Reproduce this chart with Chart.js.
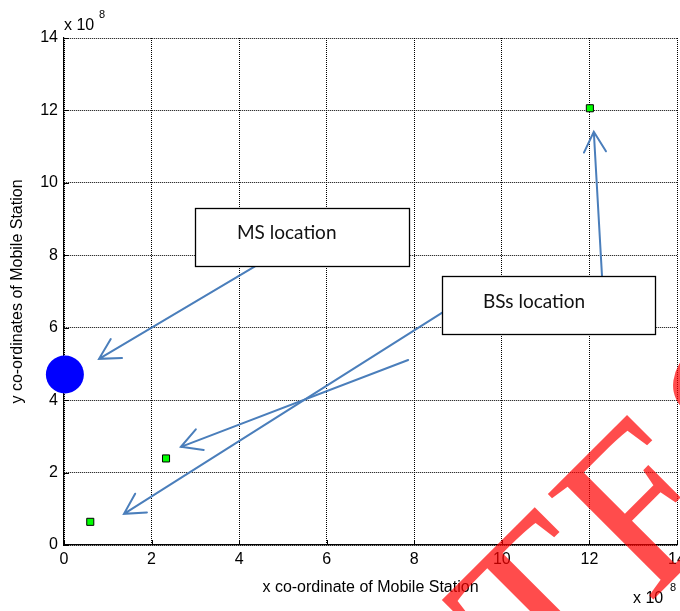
<!DOCTYPE html>
<html>
<head>
<meta charset="utf-8">
<script src="https://cdn.jsdelivr.net/npm/chart.js@4"></script>
<style>
  html, body { margin: 0; padding: 0; background: #fff; }
</style>
</head>
<body>
<canvas id="plot" width="680" height="611"></canvas>
<script>
// all values in units of 10^8
const tickValues = [0, 2, 4, 6, 8, 10, 12, 14];
const exponent = "8";

const msX = [0.02];
const msY = [4.71];

const bsX = [0.60, 2.33, 12.01];
const bsY = [0.64, 2.39, 12.06];

const xTitle = "x co-ordinate of Mobile Station";
const yTitle = "y co-ordinates of Mobile Station";

// callout boxes and arrows, placed in data units
const notes = [
  { text: "MS location", box: [2.99, 9.31, 7.88, 7.71], at: [3.95, 8.45] },
  { text: "BSs location", box: [8.63, 7.43, 13.50, 5.83], at: [9.57, 6.55] },
];
const arrows = [
  [4.38, 7.71, 0.80, 5.14],
  [8.63, 6.41, 1.37, 0.86],
  [7.86, 5.11, 2.67, 2.71],
  [12.29, 7.37, 12.10, 11.41],
];

const sans = "'Liberation Sans', Arial, sans-serif";
const tickFont = { family: sans, size: 16 };

const decorations = {
  id: "decorations",
  afterDraw(chart) {
    const ctx = chart.ctx;
    const xs = chart.scales.x, ys = chart.scales.y;
    const area = chart.chartArea;
    const px = v => xs.getPixelForValue(v);
    const py = v => ys.getPixelForValue(v);

    // inward tick marks, matlab style
    ctx.save();
    ctx.strokeStyle = "#000";
    ctx.lineWidth = 1;
    ctx.beginPath();
    tickValues.forEach(v => {
      const x = Math.round(px(v)) + 0.5;
      ctx.moveTo(x, area.bottom);
      ctx.lineTo(x, area.bottom - 5);
      const y = Math.round(py(v)) + 0.5;
      ctx.moveTo(area.left, y);
      ctx.lineTo(area.left + 5, y);
    });
    ctx.stroke();
    ctx.restore();

    // arrows
    ctx.save();
    ctx.strokeStyle = "#4a7ebb";
    ctx.lineWidth = 2;
    ctx.lineCap = "round";
    arrows.forEach(a => {
      const x0 = px(a[0]), y0 = py(a[1]), x1 = px(a[2]), y1 = py(a[3]);
      const ang = Math.atan2(y1 - y0, x1 - x0);
      const len = 23, spread = 0.5;
      ctx.beginPath();
      ctx.moveTo(x0, y0);
      ctx.lineTo(x1, y1);
      ctx.moveTo(x1 - len * Math.cos(ang - spread), y1 - len * Math.sin(ang - spread));
      ctx.lineTo(x1, y1);
      ctx.lineTo(x1 - len * Math.cos(ang + spread), y1 - len * Math.sin(ang + spread));
      ctx.stroke();
    });
    ctx.restore();

    // callout boxes
    ctx.save();
    notes.forEach(n => {
      const l = Math.round(px(n.box[0])) + 0.5, t = Math.round(py(n.box[1])) + 0.5;
      const r = Math.round(px(n.box[2])) + 0.5, b = Math.round(py(n.box[3])) + 0.5;
      ctx.fillStyle = "#fff";
      ctx.fillRect(l, t, r - l, b - t);
      ctx.strokeStyle = "#000";
      ctx.lineWidth = 1.3;
      ctx.strokeRect(l, t, r - l, b - t);
      ctx.fillStyle = "#111";
      ctx.font = "19px Lato, 'Open Sans', sans-serif";
      ctx.textAlign = "left";
      ctx.textBaseline = "alphabetic";
      ctx.fillText(n.text, px(n.at[0]), py(n.at[1]));
    });
    ctx.restore();

    // exponent labels
    ctx.save();
    ctx.fillStyle = "#000";
    ctx.textAlign = "left";
    ctx.textBaseline = "alphabetic";
    ctx.font = "16px " + sans;
    ctx.fillText("x 10", area.left, area.top - 8);
    ctx.fillText("x 10", 633, 603);
    ctx.font = "11px " + sans;
    ctx.fillText(exponent, area.left + 35, area.top - 20);
    ctx.fillText(exponent, 670, 591);
    ctx.restore();

    // watermark, letter by letter
    ctx.save();
    ctx.translate(544.5, 708.5);
    ctx.rotate(-Math.PI / 4);
    ctx.fillStyle = "rgba(255, 0, 0, 0.7)";
    ctx.font = "228px 'Liberation Serif', 'DejaVu Serif', serif";
    ctx.textAlign = "left";
    ctx.textBaseline = "alphabetic";
    let cx = 0;
    for (const ch of "TEST") {
      ctx.fillText(ch, cx, 0);
      cx += ctx.measureText(ch).width + 8;
    }
    ctx.restore();
  }
};

function fixedAxis(scale) {
  if (scale.isHorizontal()) scale.height = 66;
  else scale.width = 64;
  scale.paddingLeft = 0;
  scale.paddingRight = 0;
  scale.paddingTop = 0;
  scale.paddingBottom = 0;
}

const axisCommon = {
  type: "linear",
  min: 0,
  max: 14,
  afterBuildTicks: s => { s.ticks = tickValues.map(v => ({ value: v })); },
  afterFit: fixedAxis,
  grid: { color: "#000", lineWidth: 1, drawTicks: false, tickLength: 0 },
  border: { display: true, color: "#000", width: 1.2, dash: [1, 1] },
};

const chart = new Chart(document.getElementById("plot"), {
  type: "scatter",
  data: {
    datasets: [
      {
        label: "MS",
        data: msX.map((x, i) => ({ x: x, y: msY[i] })),
        pointRadius: 19,
        pointHoverRadius: 19,
        backgroundColor: "#0000ff",
        borderWidth: 0,
        clip: false,
      },
      {
        label: "BS",
        data: bsX.map((x, i) => ({ x: x, y: bsY[i] })),
        pointStyle: "rect",
        pointRadius: 5,
        pointHoverRadius: 5,
        backgroundColor: "#00ff00",
        borderColor: "#000",
        borderWidth: 1,
        clip: false,
      },
    ],
  },
  options: {
    responsive: false,
    animation: false,
    layout: { autoPadding: false, padding: { top: 38, right: 3, left: 0, bottom: 0 } },
    plugins: { legend: { display: false }, tooltip: { enabled: false } },
    scales: {
      x: {
        ...axisCommon,
        position: "bottom",
        ticks: { font: tickFont, color: "#000", padding: 5, maxRotation: 0, autoSkip: false },
        title: { display: true, text: xTitle, color: "#000", font: { family: sans, size: 16 }, padding: { top: 0, bottom: 14 } },
      },
      y: {
        ...axisCommon,
        position: "left",
        ticks: { font: tickFont, color: "#000", padding: 6, autoSkip: false },
        title: { display: true, text: yTitle, color: "#000", font: { family: sans, size: 16 }, padding: { top: 8, bottom: 0 } },
      },
    },
  },
  plugins: [decorations],
});
</script>
</body>
</html>
